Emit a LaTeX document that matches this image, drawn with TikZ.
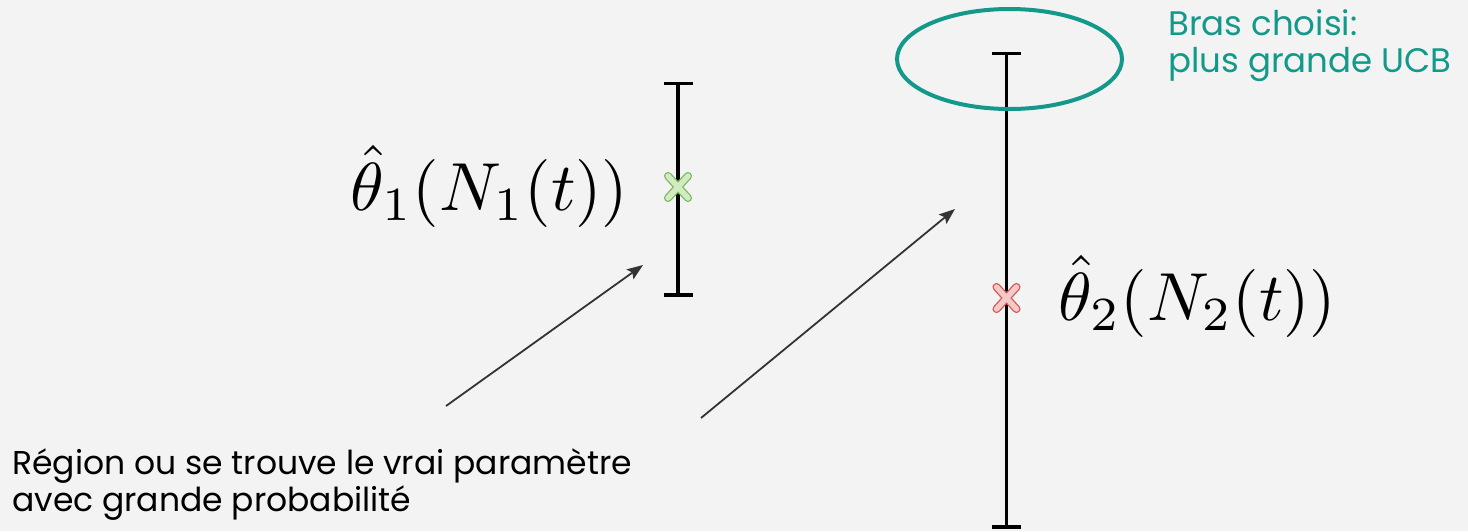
\documentclass[tikz,border=0pt]{standalone}
\usepackage{fontspec}
\setmainfont{Poppins}
\usetikzlibrary{arrows.meta,shapes.geometric}
\definecolor{PageGray}{HTML}{F3F3F3}
\definecolor{ChoiceTeal}{HTML}{13998A}
\definecolor{PointerGray}{HTML}{333333}
\definecolor{GoodGreen}{HTML}{7DB863}
\definecolor{GoodGreenLight}{HTML}{D2ECC2}
\definecolor{BadRed}{HTML}{CC5A58}
\definecolor{BadRedLight}{HTML}{F6C9C6}

\tikzset{
  errbar/.style={line width=3.5pt, {Bar[width=29pt]}-{Bar[width=29pt]}},
  pointer/.style={PointerGray, line width=1.8pt, -{Stealth[length=16pt,width=12pt,inset=3pt]}},
  estim/.pic={
    \draw[line width=1.3pt, double distance=5.5pt, line cap=round,
          draw=#1, double=#1Light] (-10,-11) -- (10,11) (-10,11) -- (10,-11);
  },
  bigmath/.style={scale=6.8, inner sep=0pt},
  plain/.style={font=\fontsize{33}{37}\selectfont, align=left, inner sep=0pt}
}

\begin{document}
\begin{tikzpicture}[x=1pt, y=-1pt]
  \fill[PageGray] (0,0) rectangle (1468,531);
  \useasboundingbox (0,0) rectangle (1468,531);

  % intervalle du bras 1
  \coordinate (b1top) at (678,81.5);
  \coordinate (b1bot) at (678,296.5);
  \draw[errbar] (b1top) -- (b1bot);
  \pic at (678,187) {estim=GoodGreen};
  \node[bigmath] (est1) at (489.5,186) {$\hat\theta_1(N_1(t))$};

  % intervalle du bras 2
  \coordinate (b2top) at (1006.5,51.5);
  \coordinate (b2bot) at (1006.5,528.5);
  \draw[errbar] (b2top) -- (b2bot);
  \pic at (1006.5,298) {estim=BadRed};
  \node[bigmath] (est2) at (1197.5,296) {$\hat\theta_2(N_2(t))$};

  % bras choisi
  \node[draw=ChoiceTeal, line width=4pt, ellipse, minimum width=225pt,
    minimum height=100pt, inner sep=0pt] (choix) at (1009.5,59) {};
  \node[plain, font=\fontsize{34}{37}\selectfont, text=ChoiceTeal,
    anchor=north west] (ucb) at (1168,9) {Bras choisi:\\plus grande UCB};

  % legende
  \node[plain, anchor=north west] (region) at (12,448)
    {Région ou se trouve le vrai paramètre\\avec grande probabilité};
  \coordinate (p1) at (446,406);
  \coordinate (q1) at (643,265);
  \coordinate (p2) at (701,418);
  \coordinate (q2) at (955,209);
  \draw[pointer] (p1) -- (q1);
  \draw[pointer] (p2) -- (q2);
\end{tikzpicture}
\end{document}
